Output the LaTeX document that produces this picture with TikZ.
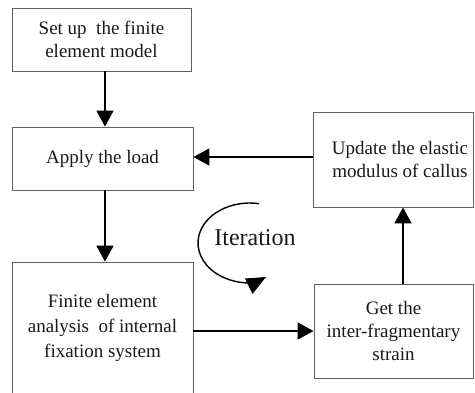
\documentclass[tikz,border=0pt]{standalone}
\usepackage{fontspec}
\setmainfont{Liberation Serif}
\usetikzlibrary{arrows.meta}
\begin{document}
\begin{tikzpicture}[x=1pt,y=-1pt,
  box/.style={draw=black!62, line width=0.9pt, align=center, inner sep=0pt,
    font=\fontsize{19}{23}\selectfont, text=black!90},
  conn/.style={line width=1.8pt, -{Triangle[length=16pt,width=17pt]}}]
\useasboundingbox (0,0) rectangle (475,392);
\clip (0,0) rectangle (475,392);
\node[box, minimum width=179pt, minimum height=63pt] (setup) at (101.5,39.5) {Set up\ \ the finite\\element model};
\node[box, minimum width=181pt, minimum height=63pt] (apply) at (102.5,158.5) {Apply the load};
\node[box, minimum width=181pt, minimum height=132pt, font=\fontsize{19}{25}\selectfont] (fe) at (102.5,328) {Finite element\\analysis\ \ of internal\\fixation system};
\node[box, minimum width=160pt, minimum height=95pt] (upd) at (393,159.5) {\hspace*{14pt}Update the elastic\\\hspace*{14pt}modulus of callus};
\node[box, minimum width=159pt, minimum height=94pt] (get) at (393.5,331) {Get the\\inter-fragmentary\\strain};
\node[font=\fontsize{24}{28}\selectfont, text=black!90] (iter) at (255,238) {Iteration};
\coordinate (dx) at (105,0);
\coordinate (ux) at (403,0);
\coordinate (ly) at (0,157);
\draw[conn] (setup.south -| dx) -- (apply.north -| dx);
\draw[conn] (apply.south -| dx) -- (fe.north -| dx);
\draw[conn] (upd.west |- ly) -- (apply.east |- ly);
\draw[conn] (get.north -| ux) -- (upd.south -| ux);
\draw[conn] (fe.east |- get.west) -- (get.west);
\draw[line width=1.4pt] (250,243) ++(-80:52 and 40) arc[start angle=-80, end angle=-275, x radius=52, y radius=40];
\fill (245,278.5) -- (266,277) -- (252.5,294) -- cycle;
\end{tikzpicture}
\end{document}
